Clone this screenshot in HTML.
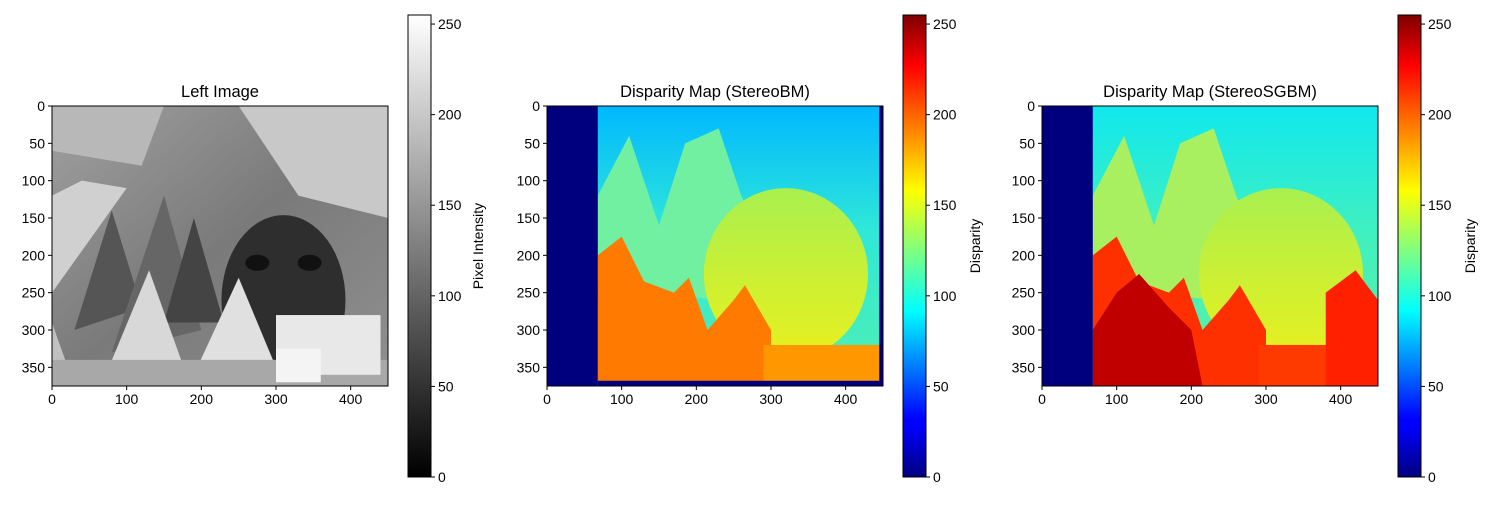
<!DOCTYPE html>
<html><head><meta charset="utf-8">
<style>
body{margin:0;background:#fff;}
svg text{font-family:"Liberation Sans","DejaVu Sans",sans-serif;}
</style></head>
<body>
<svg id="fig" width="1500" height="500" viewBox="0 0 1500 500" xmlns="http://www.w3.org/2000/svg">
<defs>
<linearGradient id="jet" x1="0" y1="1" x2="0" y2="0">
<stop offset="0" stop-color="#00007f"/><stop offset="0.11" stop-color="#0000ff"/><stop offset="0.125" stop-color="#0000ff"/>
<stop offset="0.36" stop-color="#00ffff"/><stop offset="0.62" stop-color="#ffff00"/><stop offset="0.89" stop-color="#ff0000"/><stop offset="1" stop-color="#7f0000"/>
</linearGradient>
<linearGradient id="gray" x1="0" y1="1" x2="0" y2="0"><stop offset="0" stop-color="#000"/><stop offset="1" stop-color="#fff"/></linearGradient>
<linearGradient id="bgbm" x1="0" y1="0" x2="0" y2="1"><stop offset="0" stop-color="#00b8ff"/><stop offset="0.45" stop-color="#30e8d8"/><stop offset="1" stop-color="#50f0b0"/></linearGradient>
<linearGradient id="bgsg" x1="0" y1="0" x2="0" y2="1"><stop offset="0" stop-color="#10e8ee"/><stop offset="0.45" stop-color="#40f0c0"/><stop offset="1" stop-color="#60f0a0"/></linearGradient>
<linearGradient id="face" x1="0" y1="0" x2="0" y2="1"><stop offset="0" stop-color="#a8f050"/><stop offset="0.6" stop-color="#d0f030"/><stop offset="1" stop-color="#e8f020"/></linearGradient>
<linearGradient id="gimg" x1="0" y1="0" x2="1" y2="1"><stop offset="0" stop-color="#a0a0a0"/><stop offset="0.5" stop-color="#7a7a7a"/><stop offset="1" stop-color="#909090"/></linearGradient>
</defs>
<g id="root"></g>
</svg>
<script>
const imgW = 450, imgH = 375;
const xTicks = [0,100,200,300,400];
const yTicks = [0,50,100,150,200,250,300,350];
const cbTicks = [0,50,100,150,200,250];
const cbMax = 255;
const titles = ["Left Image","Disparity Map (StereoBM)","Disparity Map (StereoSGBM)"];
const cbLabels = ["Pixel Intensity","Disparity","Disparity"];
const panelX = [52,547,1042];
const cbX = [408,903,1398];
const NS="http://www.w3.org/2000/svg";
const root=document.getElementById('root');
function mk(tag,attrs,parent,txt){const e=document.createElementNS(NS,tag);for(const k in attrs)e.setAttribute(k,attrs[k]);if(txt!==undefined)e.textContent=txt;(parent||root).appendChild(e);return e;}
const AY=106, AW=336, AH=280, CBY=15, CBH=462, CBW=23;

function scene(g, i, sx, sy){
  const P=pts=>pts.map(p=>sx(p[0])+','+sy(p[1])).join(' ');
  if(i===0){
    mk('rect',{x:sx(0),y:sy(0),width:AW,height:AH,fill:'url(#gimg)'},g);
    mk('polygon',{points:P([[0,0],[150,0],[120,80],[0,60]]),fill:'#b8b8b8'},g);
    mk('polygon',{points:P([[250,0],[450,0],[450,150],[330,120]]),fill:'#c8c8c8'},g);
    mk('polygon',{points:P([[0,120],[40,100],[100,110],[0,250]]),fill:'#d0d0d0'},g);
    mk('ellipse',{cx:sx(310),cy:sy(260),rx:62,ry:85,fill:'#2e2e2e'},g);
    mk('ellipse',{cx:sx(275),cy:sy(210),rx:12,ry:8,fill:'#111'},g);
    mk('ellipse',{cx:sx(345),cy:sy(210),rx:12,ry:8,fill:'#111'},g);
    mk('polygon',{points:P([[30,300],[80,140],[120,270]]),fill:'#555'},g);
    mk('polygon',{points:P([[80,330],[150,120],[200,300]]),fill:'#666'},g);
    mk('polygon',{points:P([[150,290],[190,150],[230,290]]),fill:'#444'},g);
    mk('polygon',{points:P([[70,365],[130,220],[180,360]]),fill:'#d8d8d8'},g);
    mk('polygon',{points:P([[190,360],[250,230],[300,350]]),fill:'#e0e0e0'},g);
    mk('polygon',{points:P([[0,375],[0,290],[30,375]]),fill:'#c0c0c0'},g);
    mk('rect',{x:sx(0),y:sy(340),width:AW,height:sy(375)-sy(340),fill:'#a8a8a8'},g);
    mk('rect',{x:sx(300),y:sy(280),width:sx(440)-sx(300),height:sy(360)-sy(280),fill:'#e8e8e8'},g);
    mk('rect',{x:sx(300),y:sy(325),width:sx(360)-sx(300),height:sy(370)-sy(325),fill:'#f4f4f4'},g);
    return;
  }
  const bm=i===1;
  mk('rect',{x:sx(0),y:sy(0),width:AW,height:AH,fill:bm?'url(#bgbm)':'url(#bgsg)'},g);
  mk('polygon',{points:P([[68,120],[110,40],[150,160],[185,50],[230,30],[260,120],[300,200],[230,260],[68,240]]),fill:bm?'#70f0a0':'#a8f060'},g);
  mk('ellipse',{cx:sx(320),cy:sy(225),rx:sx(430)-sx(320),ry:sy(340)-sy(225),fill:'url(#face)'},g);
  mk('polygon',{points:P([[68,200],[100,175],[130,235],[170,250],[190,230],[215,300],[250,260],[265,240],[300,300],[300,375],[68,375]]),fill:bm?'#ff7a00':'#ff3000'},g);
  if(!bm) mk('polygon',{points:P([[68,375],[68,300],[100,250],[130,225],[170,270],[200,300],[215,375]]),fill:'#c00000'},g);
  mk('rect',{x:sx(290),y:sy(320),width:sx(450)-sx(290),height:sy(375)-sy(320),fill:bm?'#ff9800':'#ff3a00'},g);
  if(!bm) mk('polygon',{points:P([[380,375],[380,250],[420,220],[450,260],[450,375]]),fill:'#ff2000'},g);
  mk('rect',{x:sx(0),y:sy(0),width:sx(68)-sx(0),height:AH,fill:'#00007f'},g);
  if(bm){ mk('rect',{x:sx(68),y:sy(368),width:sx(450)-sx(68),height:sy(375)-sy(368),fill:'#00007f'},g);
    mk('rect',{x:sx(445),y:sy(0),width:sx(450)-sx(445),height:AH,fill:'#00007f'},g);}
}

for(let i=0;i<3;i++){
  const x0=panelX[i];
  const sx=v=>x0+v*AW/imgW, sy=v=>AY+v*AH/imgH;
  const g=mk('g',{});
  
  
  const im=mk('g',{},g);
  
  
  scene(im,i,sx,sy);
  const fr=mk('rect',{x:x0,y:AY,width:AW,height:AH,fill:'none',stroke:'#000','stroke-width':1},g);
  
  
  const t=mk('text',{x:x0+AW/2,y:AY-9,'text-anchor':'middle','font-size':16.5},g,titles[i]);
  
  
  xTicks.forEach(v=>{mk('line',{x1:sx(v),x2:sx(v),y1:AY+AH,y2:AY+AH+4,stroke:'#000'},g);
    const l=mk('text',{x:sx(v),y:AY+AH+18,'text-anchor':'middle','font-size':14},g,v);
    
    });
  yTicks.forEach(v=>{mk('line',{x1:x0-4,x2:x0,y1:sy(v),y2:sy(v),stroke:'#000'},g);
    const l=mk('text',{x:x0-7,y:sy(v)+5,'text-anchor':'end','font-size':14},g,v);
    
    });
  const cx=cbX[i], cy=v=>CBY+CBH-v*CBH/cbMax;
  const cb=mk('rect',{x:cx,y:CBY,width:CBW,height:CBH,fill:i===0?'url(#gray)':'url(#jet)',stroke:'#000','stroke-width':1},g);
  
  
  cbTicks.forEach(v=>{mk('line',{x1:cx+CBW,x2:cx+CBW+4,y1:cy(v),y2:cy(v),stroke:'#000'},g);
    const l=mk('text',{x:cx+CBW+7,y:cy(v)+5,'font-size':14},g,v);
    
    });
  const lx=i===0?cx+75:cx+77;
  const lab=mk('text',{x:lx,y:CBY+CBH/2,'text-anchor':'middle','font-size':14,transform:`rotate(-90 ${lx} ${CBY+CBH/2})`},g,cbLabels[i]);
  
  
}
</script>
</body></html>
